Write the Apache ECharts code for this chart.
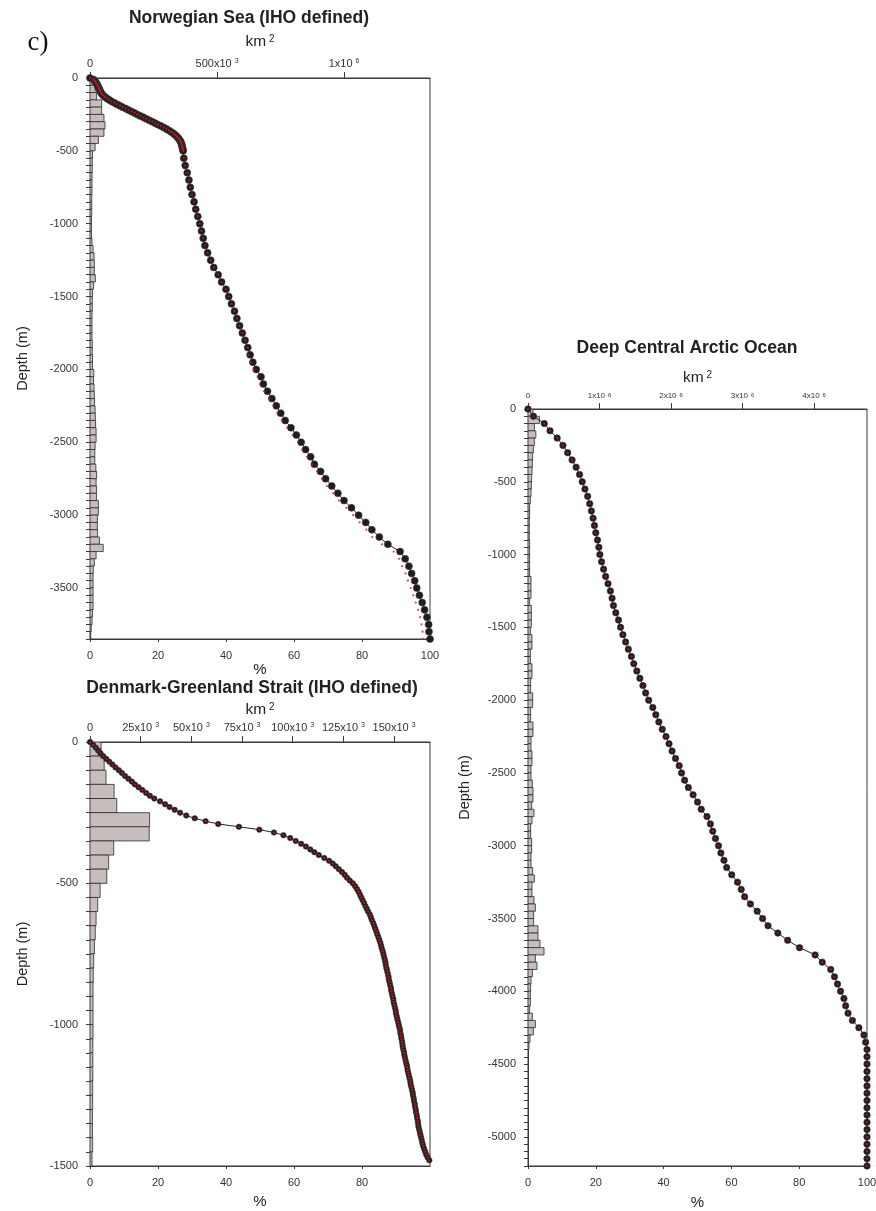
<!DOCTYPE html>
<html>
<head>
<meta charset="utf-8">
<script src="https://cdn.jsdelivr.net/npm/echarts@6/dist/echarts.min.js"></script>
<style>
html, body { margin: 0; padding: 0; background: #fff; }
#c { width: 876px; height: 1211px; }
</style>
</head>
<body>
<div id="c"></div>
<script>
const FONT = '"Liberation Sans", Arial, Helvetica, sans-serif';

// ---------- Norwegian Sea (IHO defined) ----------
// cumulative area (%) every 10 m from 0 to -500 m
const norShallowStep = 10;
const norPctShallow = [
  0, 1.0, 1.4, 1.7, 2.0, 2.2, 2.4, 2.6, 2.8, 3.0,
  3.2, 3.5, 3.9, 4.4, 5.0, 5.6, 6.3, 7.1, 7.9, 8.8,
  9.6, 10.5, 11.3, 12.2, 13.1, 13.9, 14.8, 15.7, 16.5, 17.4,
  18.3, 19.2, 20.0, 20.9, 21.7, 22.5, 23.2, 23.9, 24.5, 25.0,
  25.5, 25.9, 26.2, 26.5, 26.7, 26.9, 27.0, 27.1, 27.2, 27.3,
  27.4
];
// cumulative area (%) every 50 m from -550 to -3850 m
const norDeepStart = 550;
const norDeepStep = 50;
const norPctDeep = [
  27.6, 28.0, 28.6, 29.1, 29.5, 30.0, 30.6, 31.1, 31.7, 32.3,
  32.8, 33.3, 33.8, 34.6, 35.5, 36.4, 37.7, 38.7, 40.0, 40.8,
  41.6, 42.5, 43.2, 44.0, 44.8, 45.6, 46.4, 47.1, 47.9, 48.9,
  50.3, 51.0, 52.2, 53.5, 54.8, 56.1, 57.4, 59.1, 60.7, 62.1,
  63.4, 64.9, 66.0, 67.8, 69.3, 71.1, 72.9, 74.7, 76.9, 79.0,
  81.1, 82.9, 85.1, 87.6, 91.2, 92.7, 93.8, 94.6, 95.5, 96.1,
  96.9, 97.7, 98.4, 99.1, 99.6, 99.7, 100
];
// second (red) estimate on the same deep levels
const norPctDeepRed = [
  27.6, 28.0, 28.6, 29.1, 29.5, 30.0, 30.6, 31.1, 31.7, 32.3,
  32.8, 33.3, 33.8, 34.6, 35.5, 36.4, 37.7, 38.7, 40.0, 40.8,
  41.6, 42.5, 43.2, 44.0, 44.8, 45.6, 46.4, 46.6, 47.3, 48.2,
  49.3, 50.0, 51.2, 52.7, 53.9, 55.1, 56.4, 58.0, 59.6, 61.2,
  62.4, 63.8, 65.3, 66.8, 68.2, 69.7, 71.5, 73.2, 75.4, 77.4,
  79.3, 81.3, 83.0, 85.9, 89.3, 90.9, 91.8, 92.8, 93.5, 94.3,
  95.1, 95.8, 96.5, 97.1, 97.5, 97.8, 98.0
];
// area per 50 m depth bin, 10^3 km2
const norBinStep = 50;
const norBinArea = [
  12, 20, 26, 46, 46, 55, 59, 55, 33, 20, 10,
  9, 9, 8, 8, 8, 7, 7, 7, 6, 6,
  6, 8, 12, 16, 17, 17, 21, 14, 10, 9,
  9, 8, 8, 8, 8, 9, 9, 10, 10, 15,
  14, 16, 17, 18, 20, 21, 22, 24, 24, 20,
  19, 19, 23, 26, 24, 26, 26, 33, 33, 29,
  29, 30, 37, 52, 24, 17, 13, 12, 12, 12,
  12, 12, 10, 8, 5, 3
];
const norTotalArea = 1338;   // 10^3 km2
const norMaxDepth = 3850;

// ---------- Denmark-Greenland Strait (IHO defined) ----------
const denStep = 10;
const denPct = [
  0, 0.9, 1.7, 2.4, 3.1, 3.9, 4.8, 5.7, 6.6, 7.5,
  8.5, 9.4, 10.3, 11.3, 12.3, 13.2, 14.3, 15.4, 16.5, 17.6,
  18.9, 20.6, 22.1, 23.4, 24.9, 26.5, 28.3, 30.8, 34.0, 37.7,
  43.8, 49.8, 54.1, 56.9, 58.9, 60.5, 62.1, 63.5, 64.8, 66.0,
  67.3, 68.9, 70.3, 71.4, 72.3, 73.2, 74.1, 74.9, 75.6, 76.4,
  77.3, 78.0, 78.5, 79.0, 79.4, 79.8, 80.2, 80.6, 81.0, 81.4,
  81.8, 82.3, 82.6, 82.9, 83.3, 83.6, 83.9, 84.2, 84.5, 84.8,
  85.1, 85.4, 85.6, 85.8, 86.1, 86.3, 86.5, 86.7, 86.9, 87.0,
  87.2, 87.4, 87.6, 87.8, 87.9, 88.1, 88.3, 88.5, 88.6, 88.8,
  89.0, 89.2, 89.3, 89.5, 89.7, 89.9, 90.0, 90.2, 90.4, 90.6,
  90.8, 91.0, 91.2, 91.3, 91.5, 91.6, 91.8, 91.9, 92.0, 92.2,
  92.4, 92.5, 92.7, 92.9, 93.1, 93.3, 93.4, 93.6, 93.8, 94.0,
  94.2, 94.3, 94.5, 94.7, 94.9, 95.0, 95.2, 95.3, 95.5, 95.6,
  95.8, 95.9, 96.1, 96.2, 96.4, 96.5, 96.6, 96.8, 97.0, 97.2,
  97.4, 97.6, 97.8, 98.0, 98.3, 98.6, 98.9, 99.3, 99.8
];
const denBinStep = 50;
const denBinArea = [
  5.5, 7.0, 7.9, 11.9, 13.2, 29.4, 29.2, 11.7, 9.2, 8.3,
  5.0, 3.8, 3.0, 2.6, 2.2, 1.8, 1.6, 1.5, 1.5, 1.5,
  1.5, 1.4, 1.4, 1.4, 1.3, 1.3, 1.2, 1.2, 1.3, 1.0
];
const denTotalArea = 167.7;  // 10^3 km2
const denMaxDepth = 1500;

// ---------- Deep Central Arctic Ocean ----------
const arcStep = 50;
const arcPct = [
  0, 1.6, 4.8, 6.5, 8.6, 10.3, 11.7, 13.0, 14.2, 15.2,
  16.0, 16.8, 17.6, 18.2, 18.7, 19.2, 19.6, 20.0, 20.5, 20.9,
  21.2, 21.7, 22.3, 22.9, 23.6, 24.3, 24.8, 25.2, 25.9, 26.7,
  27.3, 28.0, 28.8, 29.6, 30.5, 31.2, 32.1, 33.0, 33.9, 34.7,
  35.6, 36.8, 37.7, 38.6, 39.6, 40.7, 41.6, 42.5, 43.5, 44.6,
  45.3, 46.2, 47.3, 48.7, 50.0, 51.1, 52.8, 53.8, 54.5, 55.3,
  56.2, 56.9, 57.8, 58.6, 60.1, 61.8, 62.9, 63.9, 65.6, 67.6,
  69.2, 70.8, 73.7, 76.6, 80.1, 84.7, 86.8, 89.3, 90.4, 91.3,
  92.2, 93.2, 93.7, 94.4, 95.7, 97.6, 99.1, 99.6, 100, 100,
  100, 100, 100, 100, 100, 100, 100, 100, 100, 100,
  100, 100, 100, 100, 100
];
const arcBinStep = 50;
const arcBinArea = [
  70, 160, 90, 110, 89, 75, 65, 61, 56, 51,
  47, 42, 33, 23, 23, 19, 19, 19, 23, 23,
  23, 23, 23, 42, 42, 42, 23, 47, 47, 47,
  33, 56, 56, 33, 33, 56, 56, 37, 37, 65,
  65, 37, 37, 70, 70, 42, 42, 56, 56, 42,
  42, 61, 70, 70, 51, 84, 56, 37, 37, 51,
  51, 42, 42, 65, 89, 56, 56, 84, 103, 79,
  79, 140, 140, 168, 224, 103, 126, 61, 42, 37,
  33, 33, 23, 61, 103, 75, 28, 14, 0, 0,
  0, 0, 0, 0, 0, 0, 0, 0, 0, 0,
  0, 0, 0, 0
];
const arcTotalArea = 4740;   // 10^3 km2
const arcMaxDepth = 5200;

// ---------- helpers ----------
const AXIS_COLOR = '#3a3a3a';
const LABEL_COLOR = '#333';

function steps(from, to, step) {
  const out = [];
  for (let v = from; v <= to + 1e-9; v += step) out.push(v);
  return out;
}

function curvePoints(pcts, start, step) {
  return pcts.map((p, i) => [p, start + i * step]);
}

function binRows(areas, step) {
  return areas.map((a, i) => [a, i * step, (i + 1) * step]);
}

function renderBin(params, api) {
  const w = api.value(0);
  if (!(w > 0)) return null;
  const a = api.coord([0, api.value(1)]);
  const b = api.coord([w, api.value(2)]);
  return {
    type: 'rect',
    shape: { x: a[0], y: a[1], width: b[0] - a[0], height: b[1] - a[1] },
    style: { fill: '#c6bebc', stroke: '#2c2c2c', lineWidth: 0.8 }
  };
}

function supLabel(fontSize, supSize) {
  return {
    m: { fontFamily: FONT, fontSize: fontSize, color: LABEL_COLOR },
    s: { fontFamily: FONT, fontSize: supSize, color: LABEL_COLOR, verticalAlign: 'top', padding: [0, 0, 0, 3] }
  };
}

function depthAxis(gridIndex, maxDepth, labelMax, nameGap) {
  return {
    type: 'value', gridIndex: gridIndex, inverse: true, min: 0, max: maxDepth, position: 'left',
    name: 'Depth (m)', nameLocation: 'middle', nameRotate: 90, nameGap: nameGap,
    nameTextStyle: { fontFamily: FONT, fontSize: 14.5, color: '#222' },
    axisLine: { show: true, onZero: false, lineStyle: { color: AXIS_COLOR, width: 1 } },
    axisTick: { show: true, customValues: steps(0, maxDepth, 50), length: 4, lineStyle: { color: AXIS_COLOR } },
    axisLabel: {
      customValues: steps(0, labelMax, 500),
      formatter: v => (v === 0 ? '0' : '-' + v),
      fontFamily: FONT, fontSize: 11, color: LABEL_COLOR, margin: 12
    },
    splitLine: { show: false }
  };
}

function pctAxis(gridIndex, labelVals, nameGap) {
  return {
    type: 'value', gridIndex: gridIndex, position: 'bottom', min: 0, max: 100,
    name: '%', nameLocation: 'middle', nameGap: nameGap,
    nameTextStyle: { fontFamily: FONT, fontSize: 15, color: '#222' },
    axisLine: { show: true, onZero: false, lineStyle: { color: AXIS_COLOR, width: 1.2 } },
    axisTick: { show: true, customValues: labelVals, length: 3, lineStyle: { color: AXIS_COLOR } },
    axisLabel: { customValues: labelVals, fontFamily: FONT, fontSize: 11, color: LABEL_COLOR, margin: 11 },
    splitLine: { show: false }
  };
}

function areaAxis(gridIndex, max, tickVals, fmt, fontSize, supSize, nameGap) {
  return {
    type: 'value', gridIndex: gridIndex, position: 'top', min: 0, max: max,
    name: '{k|km}{e|2}', nameLocation: 'middle', nameGap: nameGap,
    nameTextStyle: {
      rich: {
        k: { fontFamily: FONT, fontSize: 15.5, color: '#222' },
        e: { fontFamily: FONT, fontSize: 10, color: '#222', verticalAlign: 'top', padding: [0, 0, 0, 3] }
      }
    },
    axisLine: { show: true, onZero: false, lineStyle: { color: AXIS_COLOR, width: 1.2 } },
    axisTick: { show: true, customValues: tickVals, length: 6, lineStyle: { color: AXIS_COLOR } },
    axisLabel: { customValues: tickVals, formatter: fmt, margin: 9, rich: supLabel(fontSize, supSize) },
    splitLine: { show: false }
  };
}

const fmtThousands = v => (v === 0 ? '{m|0}' : v < 1000 ? '{m|' + v + 'x10}{s|3}' : '{m|' + (v / 1000) + 'x10}{s|6}');

// plot rectangles are fixed; labels and names sit outside them
const grids = [
  { left: 90, top: 78, width: 340, height: 561 },
  { left: 90, top: 742, width: 340, height: 424 },
  { left: 528, top: 409, width: 339, height: 757 }
];
grids.forEach(g => {
  g.show = true; g.borderColor = AXIS_COLOR; g.borderWidth = 1; g.backgroundColor = 'transparent';
  g.containLabel = false; g.outerBoundsMode = 'none';
});

const xAxes = [
  pctAxis(0, [0, 20, 40, 60, 80, 100], 22),
  areaAxis(0, norTotalArea, [0, 500, 1000], fmtThousands, 11, 7, 28),
  pctAxis(1, [0, 20, 40, 60, 80], 28),
  areaAxis(1, denTotalArea, [0, 25, 50, 75, 100, 125, 150], fmtThousands, 11, 7, 24),
  pctAxis(2, [0, 20, 40, 60, 80, 100], 29),
  areaAxis(2, arcTotalArea, [0, 1000, 2000, 3000, 4000], fmtThousands, 8, 6, 23)
];

const yAxes = [
  depthAxis(0, norMaxDepth, 3500, 60),
  depthAxis(1, denMaxDepth, 1500, 60),
  depthAxis(2, arcMaxDepth, 5000, 56)
];

const norPoints = curvePoints(norPctShallow, 0, norShallowStep)
  .concat(curvePoints(norPctDeep, norDeepStart, norDeepStep));
const norRedPoints = curvePoints(norPctShallow, 0, norShallowStep)
  .concat(curvePoints(norPctDeepRed, norDeepStart, norDeepStep));
const denPoints = curvePoints(denPct, 0, denStep);
const arcPoints = curvePoints(arcPct, 0, arcStep);

function binSeries(data, xIdx, yIdx) {
  return {
    type: 'custom', xAxisIndex: xIdx, yAxisIndex: yIdx, renderItem: renderBin,
    encode: { x: 0, y: [1, 2] }, data: data, z: 1, silent: true, clip: true
  };
}
function curveSeries(data, xIdx, yIdx, size) {
  return {
    type: 'line', xAxisIndex: xIdx, yAxisIndex: yIdx, data: data,
    symbol: 'circle', symbolSize: size, showSymbol: true, showAllSymbol: true,
    itemStyle: { color: '#1d1d1d', borderColor: '#3a3a3a', borderWidth: 0.6 },
    lineStyle: { color: '#222', width: 1 }, z: 2, silent: true
  };
}
function redSeries(data, xIdx, yIdx) {
  return {
    type: 'scatter', xAxisIndex: xIdx, yAxisIndex: yIdx, data: data,
    symbol: 'circle', symbolSize: 2.2, itemStyle: { color: '#e4141e' }, z: 3, silent: true
  };
}

const series = [
  binSeries(binRows(norBinArea, norBinStep), 1, 0),
  curveSeries(norPoints, 0, 0, 7),
  redSeries(norRedPoints, 0, 0),

  binSeries(binRows(denBinArea, denBinStep), 3, 1),
  curveSeries(denPoints, 2, 1, 5.5),
  redSeries(denPoints, 2, 1),

  binSeries(binRows(arcBinArea, arcBinStep), 5, 2),
  curveSeries(arcPoints, 4, 2, 6.5),
  redSeries(arcPoints, 4, 2)
];

const titleFont = 'bold 17.5px ' + FONT;
const graphic = [
  { type: 'text', x: 38, y: 43, style: { text: 'c)', font: '27px "Liberation Serif", "Times New Roman", serif', fill: '#111', textAlign: 'center', textVerticalAlign: 'middle' } },
  { type: 'text', x: 249, y: 18, style: { text: 'Norwegian Sea (IHO defined)', font: titleFont, fill: '#222', textAlign: 'center', textVerticalAlign: 'middle' } },
  { type: 'text', x: 252, y: 688, style: { text: 'Denmark-Greenland Strait (IHO defined)', font: titleFont, fill: '#222', textAlign: 'center', textVerticalAlign: 'middle' } },
  { type: 'text', x: 687, y: 348, style: { text: 'Deep Central Arctic Ocean', font: titleFont, fill: '#222', textAlign: 'center', textVerticalAlign: 'middle' } }
];

const chart = echarts.init(document.getElementById('c'), null, { renderer: 'canvas' });
chart.setOption({
  animation: false,
  backgroundColor: '#fff',
  grid: grids,
  xAxis: xAxes,
  yAxis: yAxes,
  series: series,
  graphic: graphic
});
</script>
</body>
</html>
